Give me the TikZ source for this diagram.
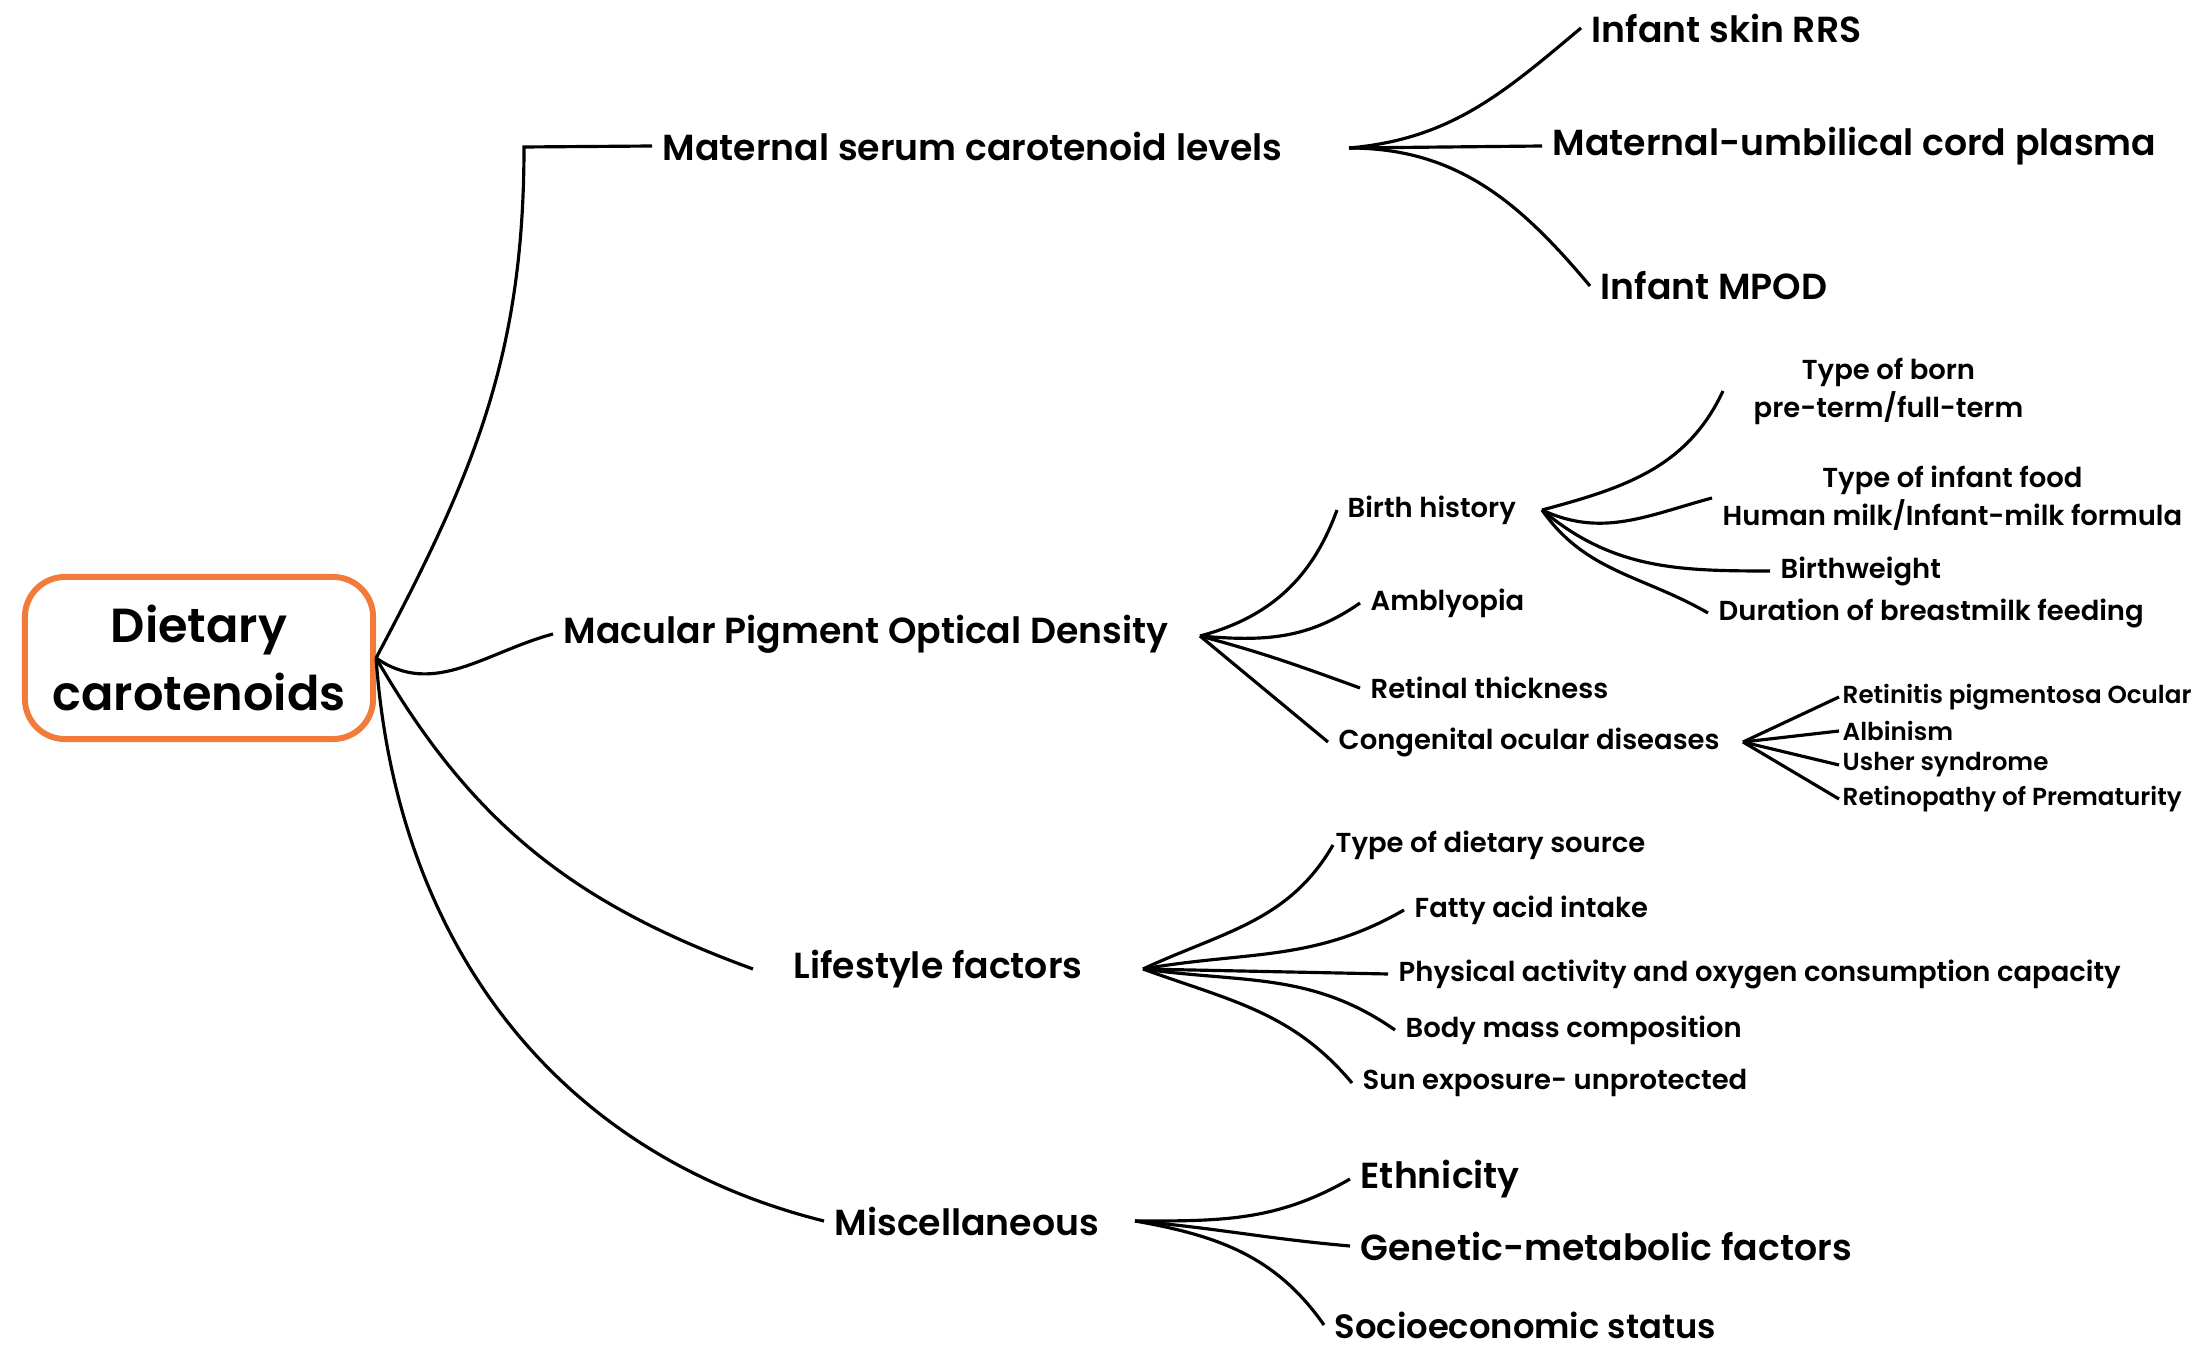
\documentclass[tikz,border=0pt]{standalone}
\usepackage{fontspec}
\setmainfont{Poppins}[UprightFont={* SemiBold}]
\definecolor{rootorange}{RGB}{242,122,58}
\begin{document}
\begin{tikzpicture}[x=0.01cm,y=0.01cm,
  link/.style={line width=0.9pt},
  big/.style={anchor=west,inner xsep=0.1cm,
              font=\fontsize{10.3}{12}\selectfont},
  mid/.style={anchor=west,inner xsep=0.1cm,align=center,
              font=\fontsize{7.8}{10.8}\selectfont},
  tiny/.style={anchor=west,inner xsep=0.03cm,
               font=\fontsize{7}{8}\selectfont},
  rootbox/.style={draw=rootorange,line width=1.7pt,
                  rounded corners=0.4cm,align=center,
                  minimum width=3.48cm,minimum height=1.62cm,
                  font=\fontsize{13.6}{19.6}\selectfont}]
  \useasboundingbox (0,0) rectangle (2208,-1358);

  % root
  \node[rootbox] (root) at (199,-658) {Dietary\\carotenoids};

  % first level
  \node[big] (msl) at (652,-146) {Maternal serum carotenoid levels};
  \node[big] (mpod) at (553,-634) {Macular Pigment Optical Density};
  \node[big,inner xsep=0.4cm] (life) at (753,-969) {Lifestyle factors};
  \node[big] (misc) at (824,-1221) {Miscellaneous};
  \coordinate (mslc) at (524,-147);
  \draw[link] (root.east) to[out=62,in=-90] (mslc) -- (msl.west);
  \draw[link] (root.east) to[out=-35,in=195] (mpod.west);
  \draw[link] (root.east) to[out=-60,in=160] (life.west);
  \draw[link] (root.east) to[out=-86,in=166] (misc.west);

  % maternal serum
  \coordinate (mslb) at (1349,-148);
  \node[big] (irrs) at (1581,-28) {Infant skin RRS};
  \node[big] (umb) at (1542,-146) {Maternal-umbilical cord plasma};
  \node[big] (impod) at (1590,-286) {Infant MPOD};
  \draw[link] (mslb) to[out=5,in=-140] (irrs.west);
  \draw[link] (mslb) -- (umb.west);
  \draw[link] (mslb) to[out=0,in=130] (impod.west);

  % macular pigment
  \coordinate (mpodb) at (1200,-636);
  \node[mid] (bh) at (1337,-510) {Birth history};
  \node[mid] (amb) at (1360,-603) {Amblyopia};
  \node[mid] (ret) at (1360,-688) {Retinal thickness};
  \node[mid] (cong) at (1328,-742) {Congenital ocular diseases};
  \draw[link] (mpodb) to[out=15,in=-110] (bh.west);
  \draw[link] (mpodb) to[out=-5,in=-145] (amb.west);
  \draw[link] (mpodb) to[out=-15,in=160] (ret.west);
  \draw[link] (mpodb) -- (cong.west);

  % birth history
  \coordinate (bhb) at (1542,-510);
  \node[mid,inner xsep=0.3cm] (born) at (1723,-391) {Type of born\\pre-term/full-term};
  \node[mid] (food) at (1712,-498) {Type of infant food\\Human milk/Infant-milk formula};
  \node[mid] (bw) at (1770,-571) {Birthweight};
  \node[mid] (dur) at (1708,-613) {Duration of breastmilk feeding};
  \draw[link] (bhb) to[out=15,in=-115] (born.west);
  \draw[link] (bhb) to[out=-25,in=195] (food.west);
  \draw[link] (bhb) to[out=-40,in=180] (bw.west);
  \draw[link] (bhb) to[out=-55,in=150] (dur.west);

  % congenital ocular diseases
  \coordinate (congb) at (1743,-742);
  \node[tiny] (rp) at (1839,-697) {Retinitis pigmentosa Ocular};
  \node[tiny] (alb) at (1839,-731) {Albinism};
  \node[tiny] (ush) at (1839,-765) {Usher syndrome};
  \node[tiny] (rop) at (1839,-799) {Retinopathy of Prematurity};
  \foreach \n in {rp,alb,ush,rop}
    \draw[link] (congb) -- (\n.west);

  % lifestyle
  \coordinate (lifeb) at (1143,-969);
  \node[mid,inner xsep=0.02cm] (diet) at (1333,-845) {Type of dietary source};
  \node[mid] (fat) at (1404,-910) {Fatty acid intake};
  \node[mid] (phys) at (1388,-974) {Physical activity and oxygen consumption capacity};
  \node[mid] (body) at (1395,-1030) {Body mass composition};
  \node[mid] (sun) at (1352,-1083) {Sun exposure- unprotected};
  \draw[link] (lifeb) to[out=25,in=-120] (diet.west);
  \draw[link] (lifeb) to[out=10,in=-150] (fat.west);
  \draw[link] (lifeb) -- (phys.west);
  \draw[link] (lifeb) to[out=-8,in=145] (body.west);
  \draw[link] (lifeb) to[out=-20,in=130] (sun.west);

  % miscellaneous
  \coordinate (miscb) at (1135,-1221);
  \node[big] (eth) at (1350,-1179) {Ethnicity};
  \node[big] (gen) at (1350,-1246) {Genetic-metabolic factors};
  \node[big,font=\fontsize{9.6}{11}\selectfont] (soc) at (1324,-1325) {Socioeconomic status};
  \draw[link] (miscb) to[out=0,in=-150] (eth.west);
  \draw[link] (miscb) to[out=-5,in=175] (gen.west);
  \draw[link] (miscb) to[out=-10,in=125] (soc.west);
\end{tikzpicture}
\end{document}
